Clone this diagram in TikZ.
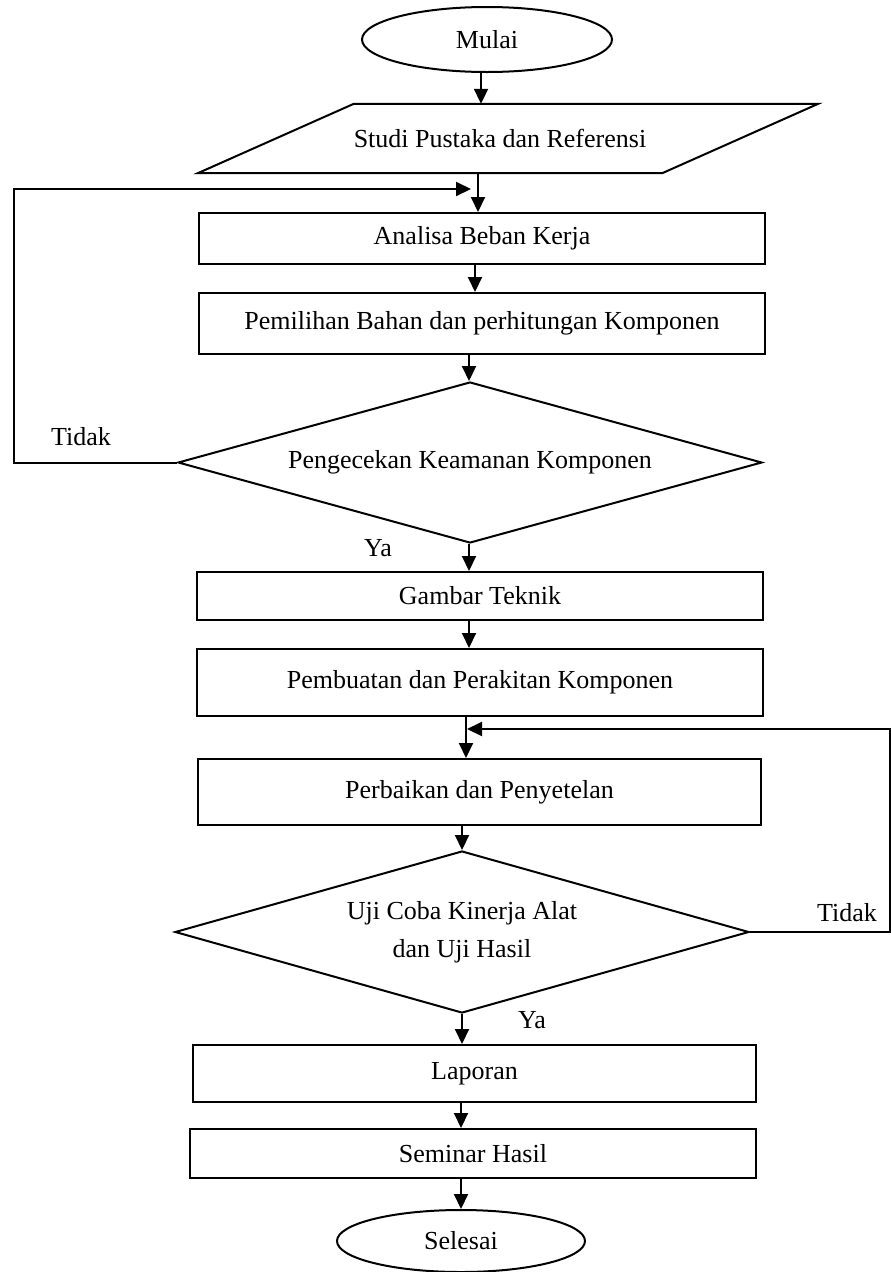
\documentclass[tikz,border=0pt]{standalone}
\usepackage{fontspec}
\setmainfont{Liberation Serif}
\usetikzlibrary{shapes.geometric,arrows.meta,calc}
\begin{document}
\begin{tikzpicture}[x=1pt,y=-1pt,
  every node/.style={font=\fontsize{26}{30}\selectfont, inner sep=0pt},
  lw/.style={line width=2pt},
  proc/.style={draw, lw, rectangle, minimum width=566, anchor=center},
  term/.style={draw, lw, ellipse},
  decide/.style={draw, lw, diamond, aspect=3.6},
  arr/.style={lw, -{Triangle[length=15pt,width=14pt]}},
  lbl/.style={font=\fontsize{26}{30}\selectfont}
]
\useasboundingbox (0,0) rectangle (891,1272);

% columns for connectors
\coordinate (k1) at (481,0);
\coordinate (k2) at (478,0);
\coordinate (k3) at (475,0);
\coordinate (k4) at (469,0);
\coordinate (k5) at (466,0);
\coordinate (k6) at (462,0);
\coordinate (k7) at (461,0);

\node[term, minimum width=250, minimum height=65] (mulai) at (487,39.5) {Mulai};

\node[minimum width=620, minimum height=69] (studi) at (508,138.5) {\hspace*{-16pt}Studi Pustaka dan Referensi};
\draw[lw] ($(studi.north west)+(156,0)$) -- (studi.north east) -- ($(studi.south east)+(-156,0)$) -- (studi.south west) -- cycle;

\node[proc, minimum height=51] (analisa) at (482,238.5) {Analisa Beban Kerja};
\node[proc, minimum height=61] (pem) at (482,323.5) {Pemilihan Bahan dan perhitungan Komponen};
\node[decide, minimum width=584, minimum height=161] (d1) at (470,462.5) {Pengecekan Keamanan Komponen};
\node[proc, minimum height=48] (gambar) at (480,596) {Gambar Teknik};
\node[proc, minimum height=67] (pemb) at (480,682.5) {Pembuatan dan Perakitan Komponen};
\node[proc, minimum width=563, minimum height=66] (perb) at (479.5,792) {Perbaikan dan Penyetelan};
\node[decide, minimum width=574, minimum height=162, align=center, font=\fontsize{26}{38}\selectfont] (d2) at (462,932) {Uji Coba Kinerja Alat\\dan Uji Hasil};
\node[proc, minimum width=563, minimum height=57] (lap) at (474.5,1073.5) {Laporan};
\node[proc, minimum width=566, minimum height=49] (sem) at (473,1153.5) {Seminar Hasil};
\node[term, minimum width=248, minimum height=62] (sel) at (461,1241) {Selesai};

% main flow
\draw[arr] (mulai.south -| k1) -- (studi.north -| k1);
\draw[arr] (studi.south -| k2) -- (analisa.north -| k2);
\draw[arr] (analisa.south -| k3) -- (pem.north -| k3);
\draw[arr] (pem.south -| k4) -- (d1.north -| k4);
\draw[arr] (d1.south -| k4) -- (gambar.north -| k4);
\draw[arr] (gambar.south -| k4) -- (pemb.north -| k4);
\draw[arr] (pemb.south -| k5) -- (perb.north -| k5);
\draw[arr] (perb.south -| k6) -- (d2.north -| k6);
\draw[arr] (d2.south -| k6) -- (lap.north -| k6);
\draw[arr] (lap.south -| k7) -- (sem.north -| k7);
\draw[arr] (sem.south -| k7) -- (sel.north -| k7);

% loop back: Tidak (1)
\coordinate (L1) at (14,189);
\coordinate (j1) at (471,189);
\draw[arr] (d1.west) -| (L1) -- (j1);

% loop back: Tidak (2)
\coordinate (R1) at (890,729);
\coordinate (j2) at (467,729);
\draw[arr] (d2.east) -| (R1) -- (j2);

% labels
\node[lbl] (t1) at (81,437) {Tidak};
\node[lbl] (y1) at (378,548) {Ya};
\node[lbl] (t2) at (847,913) {Tidak};
\node[lbl] (y2) at (532,1020) {Ya};
\end{tikzpicture}
\end{document}
